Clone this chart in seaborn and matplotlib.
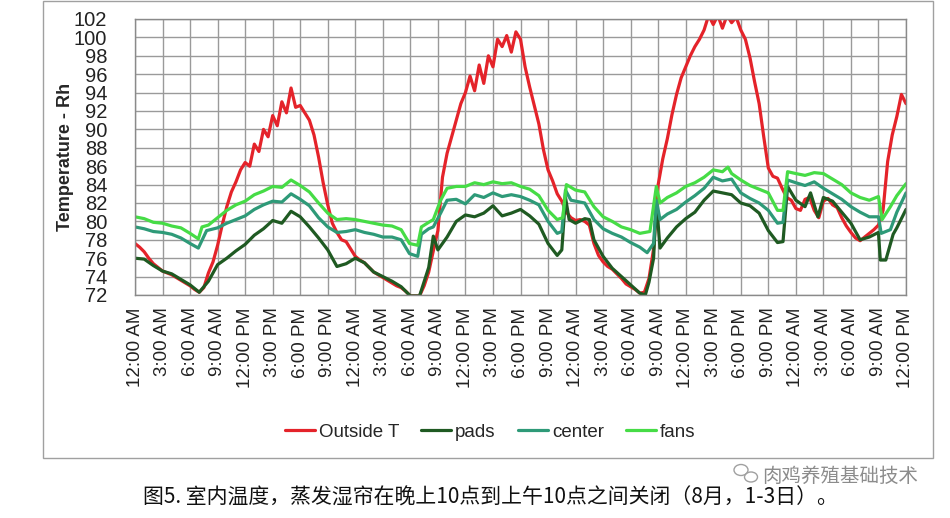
import numpy as np
import pandas as pd
import matplotlib
matplotlib.use("Agg")
import matplotlib.pyplot as plt
from matplotlib.patches import Rectangle, Ellipse
import seaborn as sns

# x axis: hours since 12:00 AM on day 1, a label every 3 hours
day_labels = ["12:00 AM", "3:00 AM", "6:00 AM", "9:00 AM",
              "12:00 PM", "3:00 PM", "6:00 PM", "9:00 PM"]
tick_hours = list(range(0, 85, 3))
tick_labels = day_labels * 3 + day_labels[:5]
y_ticks = list(range(72, 103, 2))

# Outside T, read every half hour
red_hours = np.arange(0, 84.5, 0.5)
outside_t = [
    77.6, 77.2, 76.7, 76.0, 75.4, 75.0, 74.6, 74.4, 74.2, 73.9, 73.6, 73.3,
    73.0, 72.6, 72.3, 72.8, 74.4, 75.6, 77.4, 79.6, 81.6, 83.2, 84.3, 85.6,
    86.4, 86.0, 88.4, 87.6, 90.0, 89.2, 91.5, 90.4, 93.0, 91.8, 94.5, 92.4,
    92.6, 91.8, 91.0, 89.4, 87.0, 84.2, 81.8, 79.8, 78.8, 78.0, 77.8, 77.0,
    76.2, 75.8, 75.5, 75.0, 74.5, 74.2, 73.9, 73.6, 73.3, 73.0, 72.8, 72.4,
    71.9, 71.9, 71.9, 73.0, 74.5, 76.8, 79.0, 84.8, 87.4, 89.2, 91.0, 92.8,
    94.0, 95.8, 94.2, 97.0, 95.0, 98.0, 96.8, 99.8, 99.0, 100.2, 98.4, 100.6,
    99.8, 96.8, 94.6, 92.6, 90.6, 87.8, 85.6, 84.4, 83.0, 82.2, 81.0, 80.4,
    80.1, 80.2, 80.0, 79.6, 77.6, 76.3, 75.6, 75.1, 74.8, 74.3, 73.8, 73.2,
    72.9, 72.6, 72.2, 72.3, 73.8, 77.0, 84.0, 86.8, 89.0, 91.6, 93.8, 95.6,
    96.8, 98.0, 99.0, 99.8, 100.8, 102.4, 101.4, 102.4, 101.0, 102.4, 101.6, 102.2,
    100.8, 99.8, 97.8, 95.2, 92.8, 89.2, 85.8, 84.9, 84.7, 83.6, 82.6, 82.3,
    81.4, 81.2, 82.4, 82.6, 81.2, 80.4, 82.2, 82.5, 81.8, 81.5, 80.4, 79.5,
    78.8, 78.2, 77.9, 78.3, 78.7, 79.1, 79.6, 81.2, 86.5, 89.4, 91.4, 93.8,
    92.8,
]

pads_hours = [0, 1, 2, 3, 4, 5, 6, 7, 8, 9, 10, 11, 12, 13, 14, 15, 16, 17, 18, 19,
              20, 21, 22, 23, 24, 25, 26, 27, 28, 29, 30, 31, 32, 32.5, 33, 34, 35,
              36, 37, 38, 39, 40, 41, 42, 43, 44, 45, 46, 46.5, 46.9, 47.3, 48, 49,
              49.5, 50, 51, 52, 53, 54, 55, 55.6, 56, 56.5, 56.8, 57.2, 58, 59, 60,
              61, 62, 63, 64, 65, 66, 67, 68, 69, 70, 70.6, 71.1, 72, 73, 73.6, 74.4,
              75, 76, 77, 78, 79, 80, 81, 81.2, 81.8, 82.6, 83, 84]
pads = [76.0, 75.9, 75.2, 74.6, 74.3, 73.7, 73.1, 72.3, 73.5, 75.3, 76.0, 76.8, 77.5,
        78.5, 79.2, 80.1, 79.8, 81.1, 80.5, 79.4, 78.2, 76.9, 75.1, 75.4, 76.0, 75.5,
        74.5, 74.0, 73.5, 72.9, 71.9, 71.9, 75.0, 78.4, 76.9, 78.3, 80.0, 80.7, 80.5,
        80.9, 81.7, 80.6, 80.9, 81.3, 80.6, 79.7, 77.6, 76.3, 76.9, 82.6, 80.2, 79.8,
        80.3, 80.2, 78.0, 76.2, 74.9, 74.0, 73.1, 72.2, 72.0, 73.4, 76.0, 82.2, 77.1,
        78.2, 79.4, 80.3, 81.0, 82.3, 83.3, 83.1, 82.9, 82.0, 81.7, 80.9, 79.0, 77.7,
        77.8, 83.8, 82.3, 81.6, 83.1, 80.5, 82.6, 82.2, 81.0, 79.8, 78.0, 78.3, 78.8,
        75.8, 75.8, 78.6, 79.3, 81.3]

center_hours = [0, 1, 2, 3, 4, 5, 6, 6.9, 7.8, 9, 10, 11, 12, 13, 14, 15, 16, 17, 18,
                19, 20, 21, 22, 23, 24, 25, 26, 27, 28, 29, 29.9, 30.8, 31.2, 32, 32.5,
                33.3, 34, 35, 36, 37, 38, 39, 40, 41, 42, 43, 44, 45, 46, 46.5, 46.9,
                47.5, 48, 49, 50, 51, 52, 53, 54, 55, 55.8, 56.5, 56.8, 57.2, 58, 59,
                60, 61, 62, 63, 64, 65, 66, 67, 68, 69, 70, 70.6, 71.1, 72, 73, 74, 75,
                76, 77, 78, 79, 80, 81, 81.3, 82.3, 83, 84]
center = [79.4, 79.2, 78.9, 78.8, 78.6, 78.2, 77.6, 77.1, 79.0, 79.3, 79.8, 80.2, 80.6,
          81.3, 81.8, 82.2, 82.1, 83.0, 82.4, 81.7, 80.4, 79.4, 78.8, 78.9, 79.1, 78.8,
          78.6, 78.3, 78.3, 78.0, 76.5, 76.2, 78.6, 79.2, 79.4, 80.9, 82.3, 82.4, 81.9,
          82.9, 82.6, 83.1, 82.7, 82.9, 82.7, 82.3, 81.8, 80.0, 78.7, 78.9, 83.4, 82.3,
          82.2, 82.0, 80.2, 79.2, 78.7, 78.3, 77.7, 77.2, 76.6, 77.6, 82.3, 80.2, 80.8,
          81.3, 82.1, 82.8, 83.6, 84.8, 84.4, 84.6, 83.1, 82.5, 82.0, 81.2, 79.8, 79.9,
          84.5, 84.2, 83.9, 84.3, 83.6, 83.0, 82.4, 81.6, 81.0, 80.5, 80.5, 78.7, 79.1,
          81.0, 83.1]

fans_hours = [0, 1, 2, 3, 4, 5, 6, 6.9, 7.3, 8, 9, 10, 11, 12, 13, 14, 15, 16, 17, 18,
              19, 20, 21, 22, 23, 24, 25, 26, 27, 28, 29, 29.9, 30.8, 31.2, 32, 32.5,
              33.3, 34, 35, 36, 37, 38, 39, 40, 41, 42, 43, 44, 45, 46, 46.6, 47, 48,
              49, 50, 51, 52, 53, 54, 55, 56.1, 56.8, 57.2, 58, 59, 60, 61, 62, 63, 64,
              64.6, 65, 66, 67, 68, 69, 70, 70.6, 71.1, 72, 73, 74, 75, 76, 77, 78, 79,
              80, 81, 81.4, 82.3, 83, 84]
fans = [80.5, 80.3, 79.9, 79.8, 79.5, 79.3, 78.7, 78.1, 79.4, 79.6, 80.4, 81.2, 81.8,
        82.2, 82.9, 83.3, 83.8, 83.7, 84.5, 83.9, 83.2, 82.0, 80.9, 80.2, 80.3, 80.2,
        80.0, 79.8, 79.6, 79.5, 79.1, 77.6, 77.4, 79.4, 79.9, 80.2, 82.3, 83.6, 83.8,
        83.8, 84.2, 84.0, 84.3, 84.1, 84.2, 83.8, 83.5, 82.8, 81.2, 80.2, 80.4, 84.0,
        83.4, 83.2, 81.6, 80.5, 80.0, 79.4, 79.1, 78.7, 78.9, 83.8, 82.0, 82.6, 83.1,
        83.8, 84.2, 84.8, 85.6, 85.4, 85.9, 85.2, 84.5, 83.9, 83.5, 83.1, 81.2, 81.2,
        85.4, 85.2, 85.0, 85.3, 85.2, 84.6, 84.0, 83.1, 82.6, 82.3, 82.7, 80.2, 81.6,
        82.8, 84.1]

series_names = ["Outside T", "pads", "center", "fans"]
series_colors = ["#e4232a", "#1f5a22", "#2e9a78", "#46dc46"]

frames = []
for name, hrs, vals in zip(series_names,
                           [red_hours, pads_hours, center_hours, fans_hours],
                           [outside_t, pads, center, fans]):
    frames.append(pd.DataFrame({"hour": hrs, "temp": vals, "series": name}))
df = pd.concat(frames, ignore_index=True)

sns.set_style("white")
plt.rcParams["font.family"] = ["Liberation Sans", "Noto Sans CJK SC", "DejaVu Sans"]

fig = plt.figure(figsize=(9.5, 5.18), dpi=100)
ax = fig.add_axes([135 / 950, 1 - 295 / 518, 771 / 950, 276 / 518])

sns.lineplot(data=df, x="hour", y="temp", hue="series",
             palette=dict(zip(series_names, series_colors)),
             estimator=None, sort=False, linewidth=2.3, ax=ax)

ax.set_xlim(0, 84)
ax.set_ylim(72, 102)
ax.set_xticks(tick_hours)
ax.set_xticklabels(tick_labels, rotation=90, fontsize=13.5, color="#222222")
ax.set_yticks(y_ticks)
ax.set_yticklabels([str(v) for v in y_ticks], fontsize=14.5, color="#222222")
ax.tick_params(axis="x", length=5, width=0.8, color="#888888", pad=4)
ax.tick_params(axis="y", length=0, pad=20)
ax.grid(True, color="#9a9a9a", linewidth=1)
ax.set_axisbelow(True)
for sp in ax.spines.values():
    sp.set_color("#8a8a8a")
    sp.set_linewidth(1)
ax.set_xlabel("")
ax.set_ylabel("Temperature - Rh", fontsize=13, fontweight="bold", labelpad=0)

sns.move_legend(ax, "center", bbox_to_anchor=(0.516, 1 - 432 / 518),
                bbox_transform=fig.transFigure, ncol=4, frameon=False, title=None,
                fontsize=13.5, handlelength=1.6, columnspacing=1.2, handletextpad=0.2)

# frame round the chart
fig.patches.append(Rectangle((42.5 / 950, 1 - 458 / 518), 890 / 950, 457 / 518,
                             transform=fig.transFigure, fill=False,
                             edgecolor="#a0a0a0", linewidth=1))

# caption and watermark
fig.text(0.516, 1 - 498 / 518,
         "图5. 室内温度，蒸发湿帘在晚上10点到上午10点之间关闭（8月，1-3日）。",
         ha="center", va="center", fontsize=15, color="#111111",
         family=["Noto Sans CJK SC", "DejaVu Sans"])
fig.text(840 / 950, 1 - 476 / 518, "肉鸡养殖基础技术", ha="center", va="center",
         fontsize=14, color="#8c8c8c", family=["Noto Sans CJK SC"])
fig.patches.append(Ellipse((741 / 950, 1 - 470 / 518), 14 / 950, 11 / 518,
                           transform=fig.transFigure, fill=False,
                           edgecolor="#a0a0a0", linewidth=1))
fig.patches.append(Ellipse((751 / 950, 1 - 477 / 518), 13 / 950, 10 / 518,
                           transform=fig.transFigure, fill=False,
                           edgecolor="#a0a0a0", linewidth=1))

fig.savefig("out.png", dpi=100)
